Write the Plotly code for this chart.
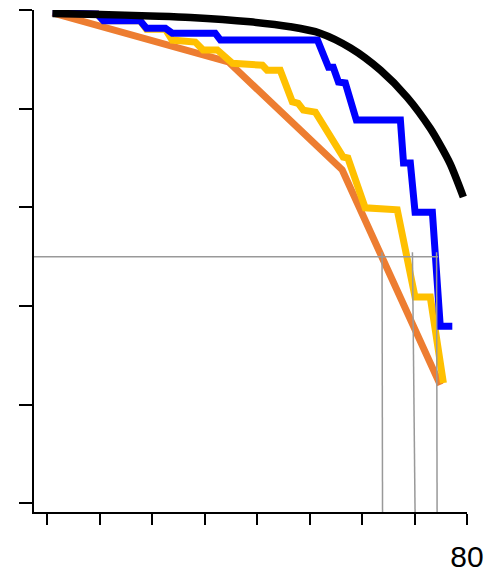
import plotly.graph_objects as go

# --- data ---
black_x = [1.0, 10.1, 19.6, 27.3, 38.7, 46.3, 52.0, 57.8, 63.5, 68.6, 73.0, 74.9, 76.8, 79.3]
black_y = [0.993, 0.991, 0.988, 0.985, 0.976, 0.966, 0.953, 0.923, 0.878, 0.823, 0.760, 0.726, 0.688, 0.621]

blue_x = [1.0, 9.5, 10.7, 17.7, 18.9, 22.5, 23.8, 32.0, 33.0, 51.5, 53.6, 54.5, 55.5, 56.8,
          58.9, 67.3, 67.9, 69.2, 70.1, 73.4, 74.9, 77.2]
blue_y = [0.994, 0.992, 0.978, 0.978, 0.963, 0.963, 0.953, 0.953, 0.939, 0.939, 0.884, 0.884,
          0.854, 0.852, 0.777, 0.777, 0.690, 0.690, 0.590, 0.590, 0.359, 0.359]

yellow_x = [1.0, 9.5, 10.7, 17.7, 18.9, 22.5, 23.8, 28.2, 29.7, 32.4, 35.3, 41.0, 41.9, 44.4,
            46.7, 47.8, 48.8, 51.1, 56.4, 57.3, 60.6, 66.7, 70.1, 73.0, 75.5]
yellow_y = [0.994, 0.992, 0.978, 0.978, 0.961, 0.961, 0.939, 0.935, 0.919, 0.919, 0.892, 0.888,
            0.878, 0.878, 0.814, 0.811, 0.797, 0.793, 0.702, 0.700, 0.599, 0.595, 0.418, 0.418, 0.244]

orange_x = [1.0, 34.5, 56.2, 74.9]
orange_y = [0.994, 0.895, 0.676, 0.240]

median_level = 0.5
median_h_x = [-2.54, 74.5]
median_top_x = [63.8, 69.6, 74.2]
median_bottom_x = [63.9, 70.1, 74.3]
median_top_y = 0.509

x_tickvals = [0, 10, 20, 30, 40, 50, 60, 70, 80]
x_ticktext = ["", "", "", "", "", "", "", "", "80"]
y_tickvals = [0, 0.2, 0.4, 0.6, 0.8, 1.0]

x_range = [-2.54, 80]
y_range = [-0.0176, 1.0]

fig = go.Figure()

fig.add_trace(go.Scatter(x=orange_x, y=orange_y, mode="lines",
                         line=dict(color="#ED7D31", width=7), showlegend=False))
fig.add_trace(go.Scatter(x=yellow_x, y=yellow_y, mode="lines",
                         line=dict(color="#FFC000", width=7), showlegend=False))
fig.add_trace(go.Scatter(x=blue_x, y=blue_y, mode="lines",
                         line=dict(color="#0000FF", width=7), showlegend=False))
fig.add_trace(go.Scatter(x=black_x, y=black_y, mode="lines",
                         line=dict(color="#000000", width=7.5, shape="spline", smoothing=0.8),
                         showlegend=False))

# median guide lines
fig.add_trace(go.Scatter(x=median_h_x, y=[median_level, median_level], mode="lines",
                         line=dict(color="#999999", width=1.5), showlegend=False))
for xt, xb in zip(median_top_x, median_bottom_x):
    fig.add_trace(go.Scatter(x=[xt, xb], y=[median_top_y, y_range[0]], mode="lines",
                             line=dict(color="#999999", width=1.5), showlegend=False))

fig.update_layout(
    width=487, height=576,
    margin=dict(l=34, r=20, t=10, b=64, autoexpand=False),
    paper_bgcolor="white", plot_bgcolor="white",
    font=dict(family="Liberation Sans", color="#000000"),
    hovermode=False,
)
fig.update_xaxes(range=x_range, showgrid=False, zeroline=False, automargin=False,
                 showline=True, linecolor="#000000", linewidth=2,
                 ticks="outside", ticklen=11, tickwidth=2, tickcolor="#000000",
                 tickvals=x_tickvals, ticktext=x_ticktext,
                 tickfont=dict(size=30, color="#000000", family="Liberation Sans"),
                 ticklabelstandoff=6)
fig.update_yaxes(range=y_range, showgrid=False, zeroline=False, automargin=False,
                 showline=True, linecolor="#000000", linewidth=2,
                 ticks="outside", ticklen=13, tickwidth=2, tickcolor="#000000",
                 tickvals=y_tickvals, showticklabels=False)

fig.write_html("out.html", config={"displayModeBar": False, "staticPlot": True},
               post_script="document.body.style.margin='0px';document.body.style.overflow='hidden';")
